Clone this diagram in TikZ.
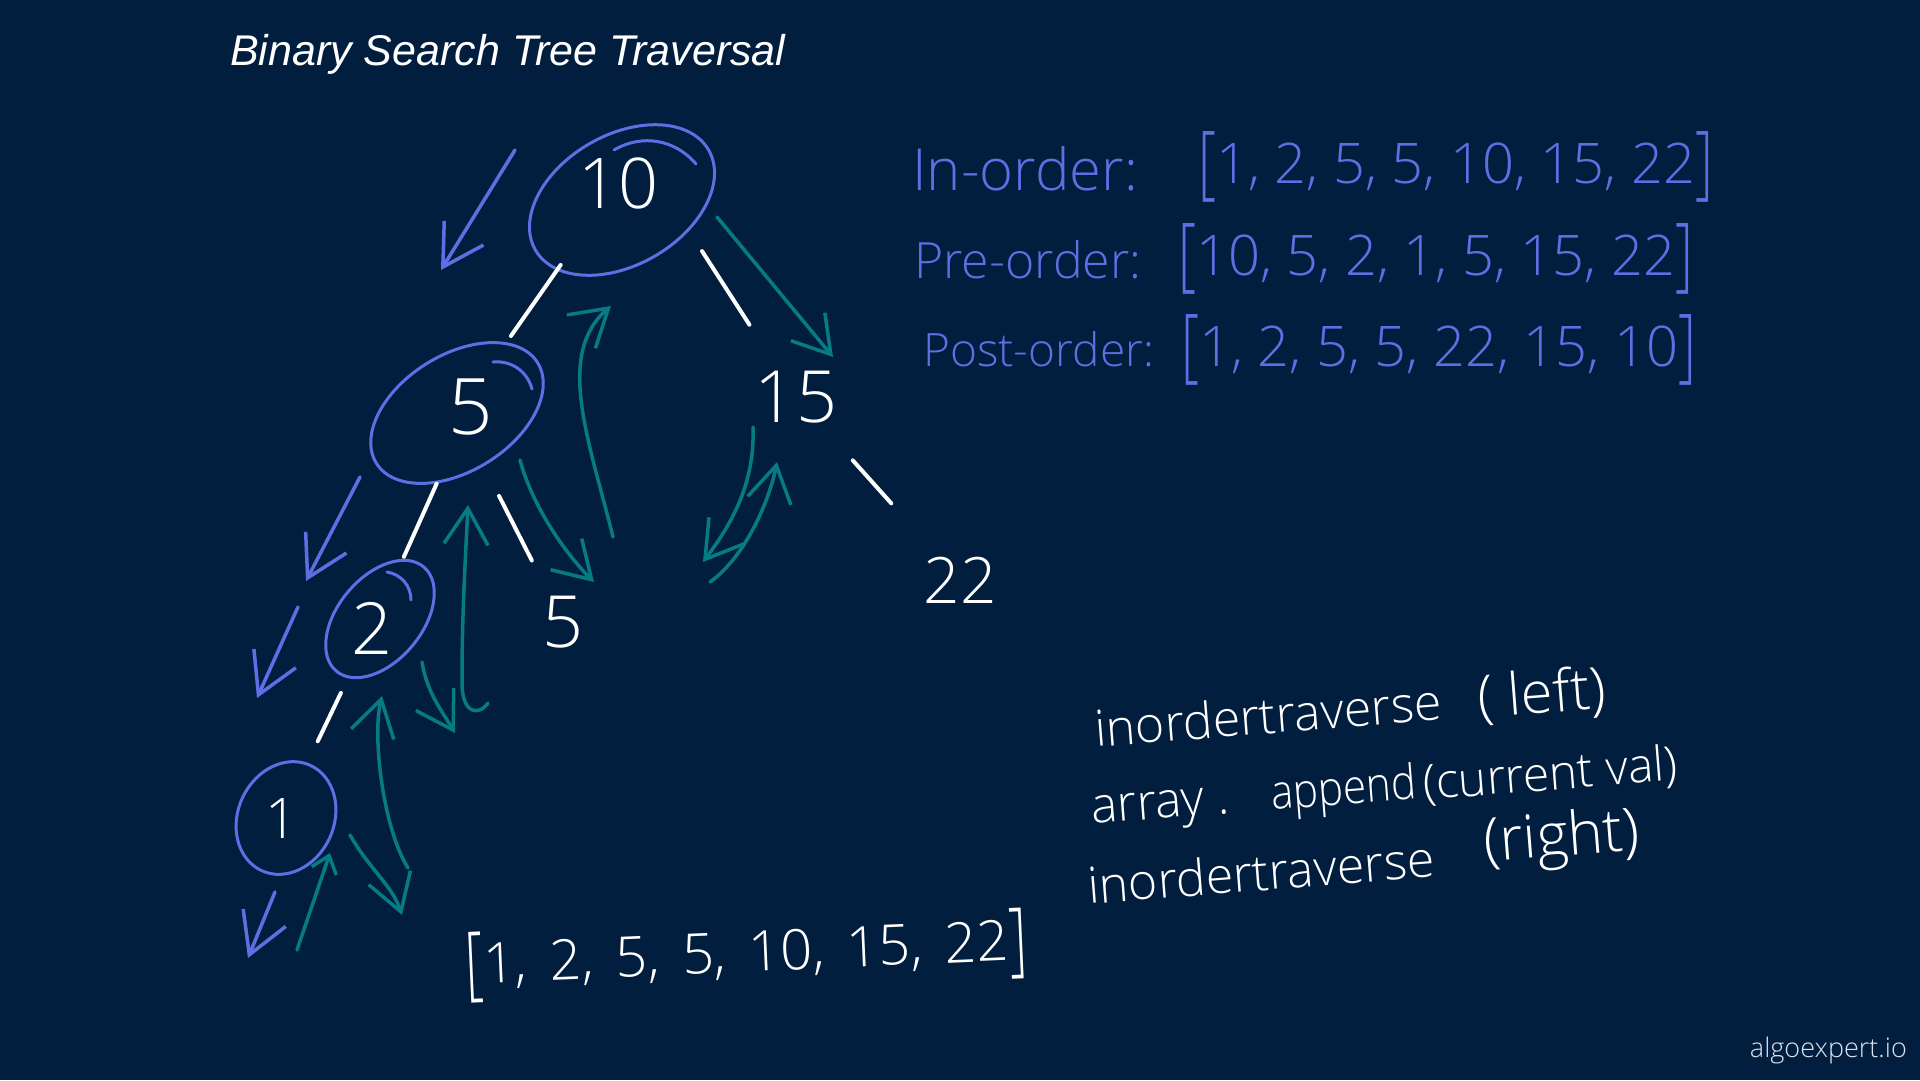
\documentclass[tikz,border=0pt]{standalone}
\usepackage{fontspec}
\usepackage{xcolor}
\usepackage{graphicx}
\usetikzlibrary{positioning,shapes.geometric,arrows.meta}
\newfontfamily\handfont{Open Sans}[UprightFont=* Light]
\newfontfamily\headfont{Liberation Sans}
\definecolor{bgnavy}{RGB}{1,30,62}
\definecolor{penblue}{RGB}{92,112,228}
\definecolor{penteal}{RGB}{6,124,130}
\definecolor{markgray}{RGB}{220,226,236}
\newcommand{\tallbrk}[1]{\raisebox{-0.12em}{\scalebox{1}[1.45]{#1}}}
\newcommand{\gap}{\hspace{0.4em}}

\begin{document}
\begin{tikzpicture}[x=1pt, y=-1pt,
  ring/.style={draw=penblue, ellipse, line width=3pt, inner sep=0pt},
  ringtail/.style={draw=penblue, line width=3pt, line cap=round},
  val/.style={text=white, inner sep=0pt, font=\handfont\fontsize{#1}{#1}\selectfont},
  treeline/.style={draw=white, line width=4pt, line cap=round},
  goleft/.style={draw=penblue, line width=3.5pt, line cap=round, line join=round, -{Straight Barb[length=40pt, width=46pt]}},
  goback/.style={draw=penteal, line width=3.5pt, line cap=round, line join=round, -{Straight Barb[length=36pt, width=44pt]}},
  bluetxt/.style={text=penblue, inner sep=0pt, anchor=base west, font=\handfont\fontsize{#1}{#1}\selectfont},
  bluetxt/.default=56,
  codetxt/.style={text=white, inner sep=0pt, anchor=base west, rotate=4.5, font=\handfont\fontsize{#1}{#1}\selectfont},
  codetxt/.default=50
]
  \fill[bgnavy] (0,0) rectangle (1920,1080);
  \useasboundingbox (0,0) rectangle (1920,1080);

  \node[anchor=base west, inner sep=0pt, text=white, font=\headfont\itshape\fontsize{43}{43}\selectfont] (title) at (230,65) {Binary Search Tree Traversal};

  % tree
  \node[ring, rotate=30, minimum width=200pt, minimum height=130pt] (n10) at (622,200) {};
  \node[ring, rotate=32, minimum width=190pt, minimum height=116pt] (n5) at (457,413) {};
  \node[ring, rotate=50, minimum width=136pt, minimum height=84pt] (n2) at (380,619) {};
  \node[ring, rotate=65, minimum width=116pt, minimum height=96pt] (n1) at (286,818) {};

  \node[val=70] (v10) at (618,183) {10};
  \node[val=78] (v5) at (471,407) {5};
  \node[val=72] (v2) at (372,628) {2};
  \node[val=56] (v1) at (281,818) {1};
  \node[val=72] (v15) at (796,397) {15};
  \node[val=72] (v5r) at (563,622) {5};
  \node[val=64] (v22) at (960,580) {22};

  \draw[ringtail] ([shift={(-8,-50)}]n10.center) to[bend left=40] ([shift={(74,-36)}]n10.center);
  \draw[ringtail] ([shift={(36,-51)}]n5.center) to[bend left=40] ([shift={(75,-24)}]n5.center);
  \draw[ringtail] ([shift={(7,-47)}]n2.center) to[bend left=40] ([shift={(31,-19)}]n2.center);

  \draw[treeline, shorten <=100pt, shorten >=94pt] (v10.center) -- (n5.center);
  \draw[treeline, shorten <=81pt, shorten >=86pt] (v10.east) -- (v15.center);
  \draw[treeline, shorten <=84pt, shorten >=78pt] (v5.center) -- (v2.center);
  \draw[treeline, shorten <=93pt, shorten >=69pt] (n5.center) -- (v5r.center);
  \draw[treeline, shorten <=72pt, shorten >=85pt] (v2.center) -- (v1.center);
  \draw[treeline, shorten <=85pt, shorten >=103pt] (v15.center) -- (v22.center);

  % traversal arrows
  \coordinate (l10a) at (515,150); \coordinate (l10b) at (441,270);
  \coordinate (l5a) at (360,477); \coordinate (l5b) at (306,581);
  \coordinate (l2a) at (298,607); \coordinate (l2b) at (257,698);
  \coordinate (l1a) at (275,892); \coordinate (l1b) at (248,958);
  \coordinate (r10a) at (717,217); \coordinate (r10b) at (833,357);
  \coordinate (r5a) at (520,460); \coordinate (r5b) at (594,582);
  \coordinate (u5a) at (613,537); \coordinate (u5b) at (611,306);
  \coordinate (l15a) at (753,427); \coordinate (l15b) at (703,562);
  \coordinate (u15a) at (710,582); \coordinate (u15b) at (777,462);
  \coordinate (u2a) at (488,703); \coordinate (u2b) at (468,505);
  \coordinate (r2a) at (422,662); \coordinate (r2b) at (455,733);
  \coordinate (u1a) at (408,868); \coordinate (u1b) at (382,696);
  \coordinate (r1a) at (350,835); \coordinate (r1b) at (402,915);
  \coordinate (u0a) at (297,950); \coordinate (u0b) at (330,853);

  \draw[goleft] (l10a) -- (l10b);
  \draw[goleft] (l5a) -- (l5b);
  \draw[goleft] (l2a) -- (l2b);
  \draw[goleft] (l1a) -- (l1b);

  \draw[goback] (r10a) -- (r10b);
  \draw[goback] (r5a) .. controls +(12,45) and +(-30,-30) .. (r5b);
  \draw[goback] (u5a) .. controls +(-24,-97) and +(-56,48) .. (u5b);
  \draw[goback] (l15a) .. controls +(2,55) and +(30,-40) .. (l15b);
  \draw[goback] (u15a) .. controls +(35,-25) and +(-8,40) .. (u15b);
  \draw[goback] (u2a) .. controls +(-10,14) and +(0,30) .. ++(-26,-20) .. controls +(0,-60) and +(-4,80) .. (u2b);
  \draw[goback] (r2a) .. controls +(5,30) and +(-15,-25) .. (r2b);
  \draw[goback] (u1a) .. controls +(-25,-40) and +(-10,40) .. (u1b);
  \draw[goback] (r1a) .. controls +(20,35) and +(-10,-30) .. (r1b);
  \draw[goback, -{Straight Barb[length=16pt, width=26pt]}] (u0a) -- (u0b);

  % orders
  \node[bluetxt=58] (inlbl) at (912,190) {In-order:};
  \node[bluetxt] (inlist) at (1198,183) {\tallbrk{[}1, 2, 5, 5, 10, 15, 22\tallbrk{]}};
  \node[bluetxt=50] (prelbl) at (914,278) {Pre-order:};
  \node[bluetxt] (prelist) at (1178,275) {\tallbrk{[}10, 5, 2, 1, 5, 15, 22\tallbrk{]}};
  \node[bluetxt=46] (postlbl) at (923,366) {Post-order:};
  \node[bluetxt] (postlist) at (1181,366) {\tallbrk{[}1, 2, 5, 5, 22, 15, 10\tallbrk{]}};

  % inorder steps
  \node[codetxt] (call1) at (1096,747) {inordertraverse};
  \node[codetxt=58] (call1arg) at (1479,718) {( left)};
  \node[codetxt] (call2) at (1092,824) {array .};
  \node[codetxt=48] (call2fn) at (1272,810) {\scalebox{0.88}[1]{append}};
  \node[codetxt=48] (call2arg) at (1424,800) {(current val)};
  \node[codetxt] (call3) at (1089,904) {inordertraverse};
  \node[codetxt=60] (call3arg) at (1485,862) {(right)};

  \node[text=white, inner sep=0pt, anchor=base west, rotate=2.5, font=\handfont\fontsize{56}{56}\selectfont] (result) at (466,984) {\tallbrk{[}1,\gap 2,\gap 5,\gap 5,\gap 10,\gap 15,\gap 22\tallbrk{]}};

  \node[anchor=base east, inner sep=0pt, text=markgray, font=\handfont\fontsize{27}{27}\selectfont] (brand) at (1907,1057) {algoexpert.io};
\end{tikzpicture}
\end{document}
